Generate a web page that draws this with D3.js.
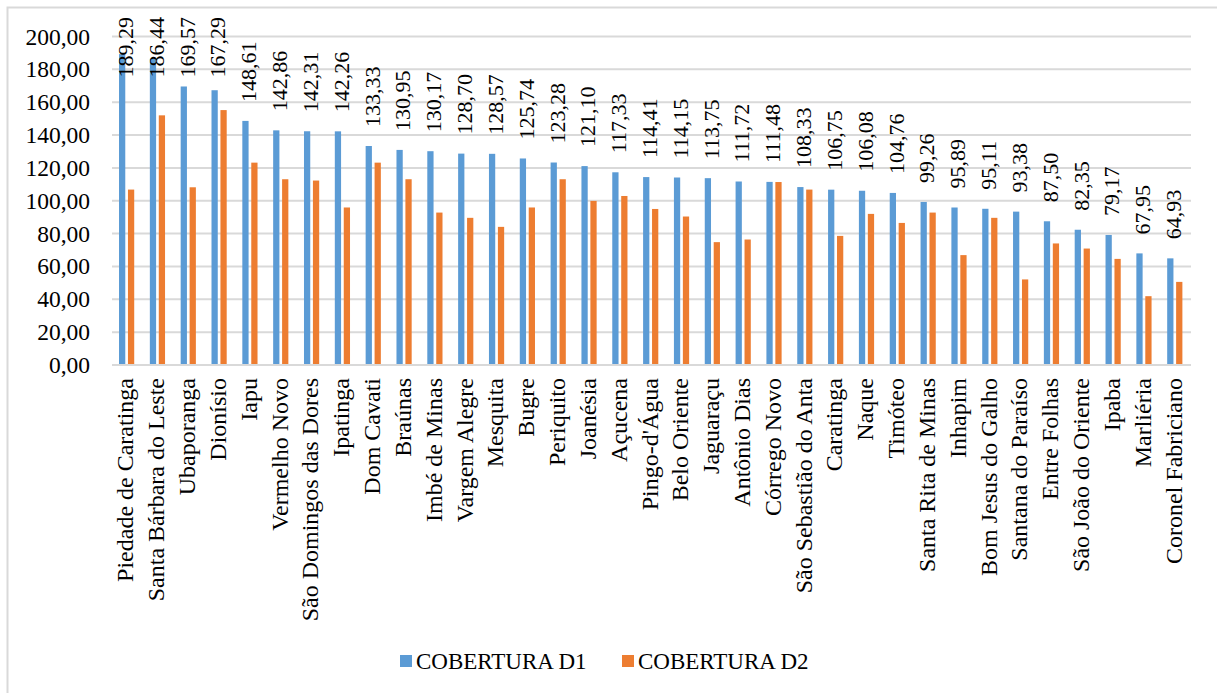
<!DOCTYPE html>
<html>
<head>
<meta charset="utf-8">
<script src="https://cdn.jsdelivr.net/npm/d3@7"></script>
<style>
  body { margin: 0; background: #fff; }
  text { font-family: "Liberation Serif", "Times New Roman", serif; fill: #000; }
</style>
</head>
<body>
<svg id="chart" width="1217" height="693"></svg>
<script>
// municipalities, sorted by D1
const cities = [
  "Piedade de Caratinga", "Santa Bárbara do Leste", "Ubaporanga", "Dionísio", "Iapu",
  "Vermelho Novo", "São Domingos das Dores", "Ipatinga", "Dom Cavati", "Braúnas",
  "Imbé de Minas", "Vargem Alegre", "Mesquita", "Bugre", "Periquito", "Joanésia",
  "Açucena", "Pingo-d'Água", "Belo Oriente", "Jaguaraçu", "Antônio Dias", "Córrego Novo",
  "São Sebastião do Anta", "Caratinga", "Naque", "Timóteo", "Santa Rita de Minas",
  "Inhapim", "Bom Jesus do Galho", "Santana do Paraíso", "Entre Folhas",
  "São João do Oriente", "Ipaba", "Marliéria", "Coronel Fabriciano"
];
const coberturaD1 = [
  189.29, 186.44, 169.57, 167.29, 148.61, 142.86, 142.31, 142.26, 133.33, 130.95,
  130.17, 128.70, 128.57, 125.74, 123.28, 121.10, 117.33, 114.41, 114.15, 113.75,
  111.72, 111.48, 108.33, 106.75, 106.08, 104.76, 99.26, 95.89, 95.11, 93.38,
  87.50, 82.35, 79.17, 67.95, 64.93
];
// (no labels)
const coberturaD2 = [
  106.8, 152.0, 108.2, 155.2, 123.2, 113.1, 112.3, 95.9, 123.2, 113.1,
  92.8, 89.6, 84.1, 95.9, 113.1, 99.9, 102.9, 95.0, 90.4, 74.8,
  76.4, 111.4, 106.8, 78.6, 92.0, 86.5, 92.8, 66.9, 89.6, 52.1,
  74.0, 70.9, 64.6, 41.9, 50.6
];
const seriesNames = ["COBERTURA D1", "COBERTURA D2"];
const seriesColors = ["#5B9BD5", "#ED7D31"];
const yTicks = [0, 20, 40, 60, 80, 100, 120, 140, 160, 180, 200];

const fmt = v => d3.format(".2f")(v).replace(".", ",");

const svg = d3.select("#chart");
const plotLeft = 112, plotRight = 1191, plotTop = 36.5, plotBottom = 365;

// outer chart border (cut off at right/bottom in the original)
svg.append("rect")
  .attr("x", 7.5).attr("y", 7.5)
  .attr("width", 1300).attr("height", 800)
  .attr("fill", "none").attr("stroke", "#d9d9d9").attr("stroke-width", 2);

const x = d3.scaleBand().domain(cities).range([plotLeft, plotRight]).padding(0);
const xs = d3.scaleBand().domain(seriesNames).range([-8.4, 6.8]).paddingInner(0.3);
const y = d3.scaleLinear().domain([0, 200]).range([plotBottom, plotTop]);

// gridlines
svg.append("g").selectAll("line").data(yTicks).join("line")
  .attr("x1", plotLeft).attr("x2", plotRight)
  .attr("y1", d => y(d)).attr("y2", d => y(d))
  .attr("stroke", "#d9d9d9").attr("stroke-width", 2);

// y axis labels
const yAxis = svg.append("g").attr("transform", `translate(${plotLeft},0)`)
  .call(d3.axisLeft(y).tickValues(yTicks).tickFormat(fmt).tickSize(0).tickPadding(22));
yAxis.select(".domain").remove();
yAxis.selectAll("text")
  .style("font-family", '"Liberation Serif", "Times New Roman", serif')
  .style("font-size", "23.5px").attr("fill", "#000");

// bars
const rows = cities.map((c, i) => ({ city: c, vals: [coberturaD1[i], coberturaD2[i]] }));
const groups = svg.append("g").selectAll("g").data(rows).join("g")
  .attr("transform", d => `translate(${x(d.city) + x.bandwidth() / 2},0)`);
groups.selectAll("rect").data(d => d.vals.map((v, k) => ({ v, k }))).join("rect")
  .attr("x", d => xs(seriesNames[d.k]))
  .attr("width", xs.bandwidth())
  .attr("y", d => y(d.v))
  .attr("height", d => y(0) - y(d.v))
  .attr("fill", d => seriesColors[d.k]);

// data labels on D1 (rotated, kept inside the chart top)
groups.append("text")
  .attr("text-anchor", "start")
  .attr("dominant-baseline", "central")
  .style("font-size", "22px")
  .text(d => fmt(d.vals[0]))
  .each(function (d) {
    const len = this.getComputedTextLength();
    const start = Math.max(y(d.vals[0]) - 19, 17 + len);
    d3.select(this).attr("transform", `translate(-2,${start}) rotate(-90)`);
  });

// baseline
svg.append("line")
  .attr("x1", plotLeft).attr("x2", plotRight)
  .attr("y1", y(0)).attr("y2", y(0))
  .attr("stroke", "#d9d9d9").attr("stroke-width", 2);

// category labels
svg.append("g").selectAll("text").data(cities).join("text")
  .attr("text-anchor", "end")
  .attr("dominant-baseline", "central")
  .style("font-size", "24px")
  .attr("transform", d => `translate(${x(d) + x.bandwidth() / 2 - 2},378) rotate(-90)`)
  .text(d => d);

// legend
const legend = svg.append("g").selectAll("g").data(seriesNames).join("g")
  .attr("transform", (d, i) => `translate(${i === 0 ? 400 : 622},655)`);
legend.append("rect").attr("width", 12).attr("height", 12)
  .attr("fill", (d, i) => seriesColors[i]);
legend.append("text").attr("x", 16).attr("y", 13.5)
  .style("font-size", "23px")
  .text(d => d);
</script>
</body>
</html>
